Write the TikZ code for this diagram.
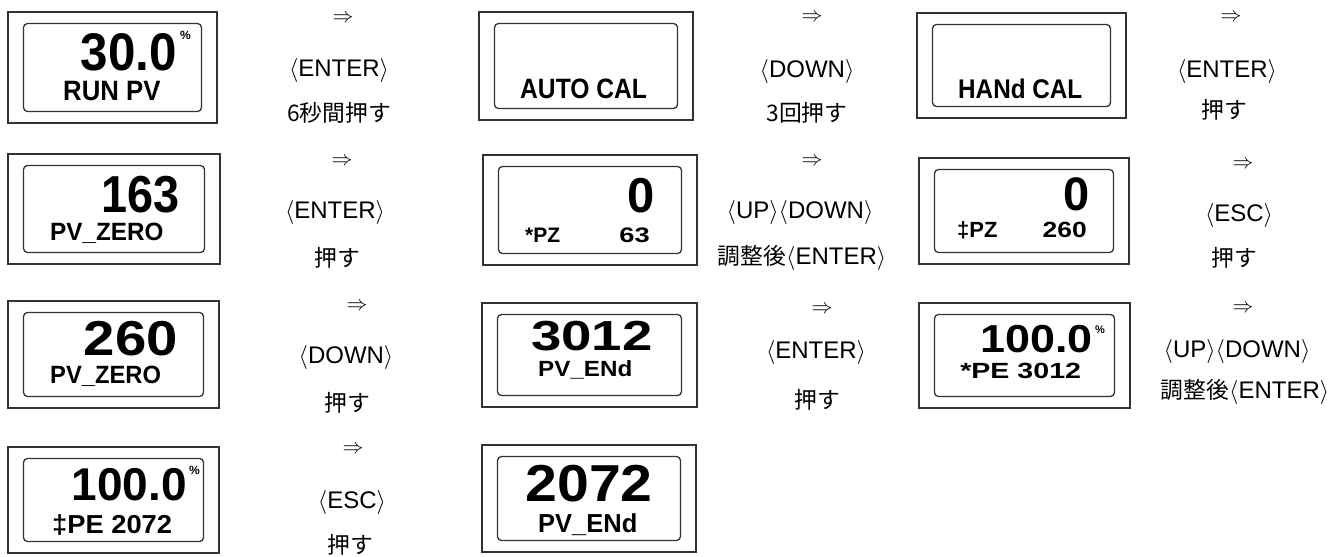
\documentclass[tikz,border=0pt]{standalone}
\usepackage{fix-cm}
\usepackage{fontspec}
\setmainfont{Liberation Sans}
\newfontfamily\jpfont[Scale=0.95]{Noto Sans CJK JP}

\newcommand{\keyname}[1]{$\langle$#1$\rangle$}

\begin{document}
\begin{tikzpicture}[x=1pt, y=-1pt,
    outerframe/.style={draw=black!80, line width=1.4pt, inner sep=0pt, outer sep=0pt},
    innerframe/.style={draw=black!80, line width=1.3pt, rounded corners=4pt, inner sep=0pt, outer sep=0pt},
    lcdbig/.style={inner sep=0pt, anchor=base east, font=\bfseries\fontsize{#1}{#1}\selectfont},
    lcdsmall/.style={inner sep=0pt, anchor=base west, font=\bfseries\fontsize{#1}{#1}\selectfont},
    lcdunit/.style={inner sep=0pt, anchor=north west, font=\bfseries\fontsize{#1}{#1}\selectfont},
    arrowmark/.style={inner sep=0pt, font=\fontsize{21}{21}\selectfont},
    keytext/.style={inner sep=0pt, anchor=base, font=\fontsize{24}{24}\selectfont}]

    \useasboundingbox (0,0) rectangle (1339,557);

    % display panels: outer frame and rounded lcd window
    \foreach \nm/\xa/\ya/\xb/\yb in {p1/8/12/217/123, p2/479/12/693/120, p3/917/13/1126/118,
                                     p4/8/154/220/264, p5/483/155/697/265, p6/919/158/1129/264,
                                     p7/8/301/219/408, p8/482/303/697/407, p9/919/303/1130/408,
                                     p10/8/447/219/553, p11/482/445/696/552}{
        \node [outerframe, minimum width={(\xb-\xa)*1pt}, minimum height={(\yb-\ya)*1pt}]
            (\nm) at ({(\xa+\xb)/2},{(\ya+\yb)/2}) {};
        \node [innerframe, minimum width={(\xb-\xa-31)*1pt}, minimum height={(\yb-\ya-23)*1pt}]
            (\nm-lcd) at (\nm.center) {};
    }

    % lcd readings
    \node [lcdbig=53, xscale=0.93] (p1 val) at (177,70) {30.0};
    \node [lcdunit=12] (p1 unit) at (180,31) {\%};
    \node [lcdsmall=28, xscale=0.92] (p1 tag) at (63,100) {RUN PV};

    \node [lcdsmall=28, xscale=0.88] (p2 tag) at (520,98) {AUTO CAL};

    \node [lcdsmall=27, xscale=0.9] (p3 tag) at (958,98) {HANd CAL};

    \node [lcdbig=52, xscale=0.9] (p4 val) at (180,212) {163};
    \node [lcdsmall=25, xscale=0.97] (p4 tag) at (50,240) {PV\_ZERO};

    \node [lcdbig=49] (p5 val) at (655,212) {0};
    \node [lcdsmall=21] (p5 tag) at (525,242) {*PZ};
    \node [lcdbig=21, xscale=1.3] (p5 sub) at (650,242) {63};

    \node [lcdbig=47] (p6 val) at (1090,210) {0};
    \node [lcdsmall=22] (p6 tag) at (957,237) {‡PZ};
    \node [lcdbig=22, xscale=1.2] (p6 sub) at (1087,237) {260};

    \node [lcdbig=49, xscale=1.15] (p7 val) at (178,355) {260};
    \node [lcdsmall=25, xscale=0.95] (p7 tag) at (50,383) {PV\_ZERO};

    \node [lcdbig=42, xscale=1.3] (p8 val) at (653,350) {3012};
    \node [lcdsmall=22, xscale=1.1] (p8 tag) at (538,376) {PV\_ENd};

    \node [lcdbig=39, xscale=1.15] (p9 val) at (1093,352) {100.0};
    \node [lcdunit=11] (p9 unit) at (1095,326) {\%};
    \node [lcdsmall=22, xscale=1.3] (p9 tag) at (960,378) {*PE 3012};

    \node [lcdbig=46] (p10 val) at (187,500) {100.0};
    \node [lcdunit=12] (p10 unit) at (189,466) {\%};
    \node [lcdsmall=26, xscale=1.05] (p10 tag) at (52,533) {‡PE 2072};

    \node [lcdbig=52, xscale=1.1] (p11 val) at (653,501) {2072};
    \node [lcdsmall=26, xscale=0.98] (p11 tag) at (538,532) {PV\_ENd};

    % key steps
    \node [arrowmark] (s1 arrow) at (343,19) {$\Rightarrow$};
    \node [keytext] (s1 key) at (339,76) {\keyname{ENTER}};
    \node [keytext] (s1 act) at (339,121) {\jpfont 6秒間押す};

    \node [arrowmark] (s2 arrow) at (812,18) {$\Rightarrow$};
    \node [keytext] (s2 key) at (807,77) {\keyname{DOWN}};
    \node [keytext] (s2 act) at (807,121) {\jpfont 3回押す};

    \node [arrowmark] (s3 arrow) at (1231,18) {$\Rightarrow$};
    \node [keytext] (s3 key) at (1227,77) {\keyname{ENTER}};
    \node [keytext] (s3 act) at (1224,118) {\jpfont 押す};

    \node [arrowmark] (s4 arrow) at (342,162) {$\Rightarrow$};
    \node [keytext] (s4 key) at (335,218) {\keyname{ENTER}};
    \node [keytext] (s4 act) at (337,266) {\jpfont 押す};

    \node [arrowmark] (s5 arrow) at (812,162) {$\Rightarrow$};
    \node [keytext] (s5 key) at (800,218) {\keyname{UP}\keyname{DOWN}};
    \node [keytext] (s5 act) at (802,264) {{\jpfont 調整後}\keyname{ENTER}};

    \node [arrowmark] (s6 arrow) at (1243,165) {$\Rightarrow$};
    \node [keytext] (s6 key) at (1239,221) {\keyname{ESC}};
    \node [keytext] (s6 act) at (1234,266) {\jpfont 押す};

    \node [arrowmark] (s7 arrow) at (357,307) {$\Rightarrow$};
    \node [keytext] (s7 key) at (346,363) {\keyname{DOWN}};
    \node [keytext] (s7 act) at (347,411) {\jpfont 押す};

    \node [arrowmark] (s8 arrow) at (822,310) {$\Rightarrow$};
    \node [keytext] (s8 key) at (816,358) {\keyname{ENTER}};
    \node [keytext] (s8 act) at (817,408) {\jpfont 押す};

    \node [arrowmark] (s9 arrow) at (1243,309) {$\Rightarrow$};
    \node [keytext] (s9 key) at (1237,357) {\keyname{UP}\keyname{DOWN}};
    \node [keytext] (s9 act) at (1245,398) {{\jpfont 調整後}\keyname{ENTER}};

    \node [arrowmark] (s10 arrow) at (353,450) {$\Rightarrow$};
    \node [keytext] (s10 key) at (352,508) {\keyname{ESC}};
    \node [keytext] (s10 act) at (350,553) {\jpfont 押す};
\end{tikzpicture}
\end{document}
